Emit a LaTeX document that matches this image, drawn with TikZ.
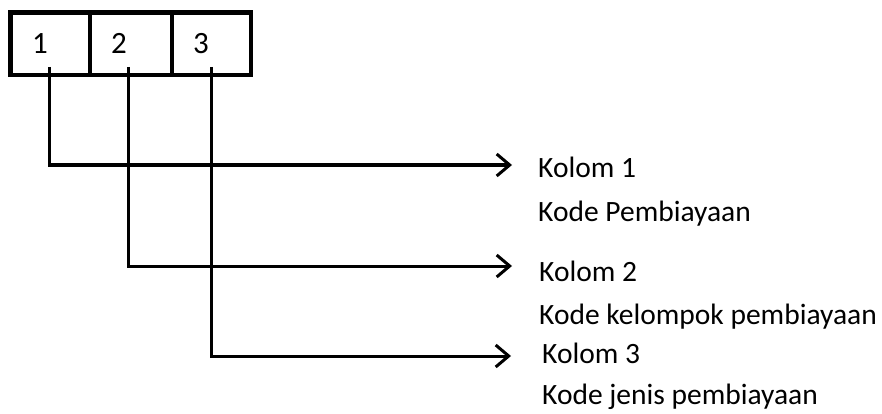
\documentclass[tikz,border=0pt]{standalone}
\usepackage{fontspec}
\setmainfont{Carlito}
\usetikzlibrary{arrows.meta}
\tikzset{
  num/.style={font=\fontsize{31}{36}\selectfont,inner sep=0pt,anchor=base},
  lbl/.style={font=\fontsize{29.5}{34}\selectfont,inner sep=0pt,anchor=base west},
  conn/.style={line width=3pt,-{Straight Barb[length=13pt,width=22pt,line width=3pt]}},
  frame/.style={line width=4.5pt,line join=miter}
}
\begin{document}
\begin{tikzpicture}[x=1pt,y=-1pt]
\useasboundingbox (0,0) rectangle (882,414);
% box
\draw[frame] (10.5,12.5) rectangle (251,75);
\draw[line width=4pt] (90,12.5) -- (90,75);
\draw[line width=4pt] (172,12.5) -- (172,75);
\node[num] (n1) at (40,54) {1};
\node[num] (n2) at (119,54) {2};
\node[num] (n3) at (201,54) {3};
% connector start / end points
\coordinate (s1) at (49,67);
\coordinate (s2) at (128,67);
\coordinate (s3) at (211,67);
\coordinate (e1) at (512,165);
\coordinate (e2) at (512,266);
\coordinate (e3) at (511,356);
\draw[conn] (s1) |- (e1);
\draw[conn] (s2) |- (e2);
\draw[conn] (s3) |- (e3);
% labels
\node[lbl] (k1) at (538,177) {Kolom 1};
\node[lbl] (d1) at (538,221) {Kode Pembiayaan};
\node[lbl] (k2) at (539,281) {Kolom 2};
\node[lbl] (d2) at (539,324) {Kode kelompok pembiayaan};
\node[lbl] (k3) at (542,363) {Kolom 3};
\node[lbl] (d3) at (542,404) {Kode jenis pembiayaan};
\end{tikzpicture}
\end{document}
